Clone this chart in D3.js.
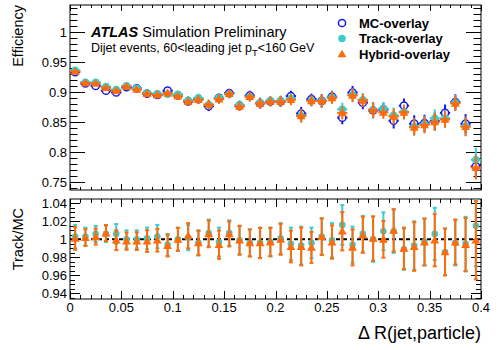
<!DOCTYPE html>
<html><head><meta charset="utf-8">
<script src="https://cdn.jsdelivr.net/npm/d3@7"></script>
<style>body{margin:0;background:#fff}svg{display:block}text{font-family:"Liberation Sans",Arial,Helvetica,sans-serif}</style>
</head><body><svg id="c" width="501" height="350"></svg>
<script>
const binCenters=[0.005,0.015,0.025,0.035,0.045,0.055,0.065,0.075,0.085,0.095,0.105,0.115,0.125,0.135,0.145,0.155,0.165,0.175,0.185,0.195,0.205,0.215,0.225,0.235,0.245,0.255,0.265,0.275,0.285,0.295,0.305,0.315,0.325,0.335,0.345,0.355,0.365,0.375,0.385,0.395];
const binHalfWidth=0.005;
const mcEff=[0.934,0.915,0.911,0.903,0.900,0.909,0.907,0.898,0.896,0.903,0.895,0.885,0.889,0.877,0.891,0.899,0.878,0.895,0.882,0.885,0.885,0.894,0.865,0.889,0.886,0.893,0.858,0.900,0.883,0.870,0.872,0.853,0.878,0.848,0.849,0.852,0.866,0.884,0.848,0.777];
const trackEff=[0.937,0.917,0.917,0.910,0.905,0.911,0.907,0.899,0.898,0.897,0.897,0.887,0.891,0.880,0.891,0.897,0.879,0.893,0.883,0.886,0.886,0.890,0.861,0.886,0.886,0.892,0.872,0.896,0.888,0.871,0.873,0.862,0.868,0.843,0.847,0.857,0.857,0.883,0.844,0.788];
const hybridEff=[0.935,0.916,0.915,0.908,0.903,0.910,0.905,0.898,0.896,0.899,0.894,0.885,0.888,0.880,0.889,0.898,0.877,0.893,0.882,0.885,0.885,0.888,0.861,0.886,0.886,0.891,0.866,0.895,0.887,0.871,0.867,0.860,0.867,0.842,0.846,0.851,0.855,0.882,0.843,0.775];
const effErr=[0.004,0.004,0.004,0.004,0.005,0.005,0.005,0.006,0.006,0.006,0.006,0.007,0.007,0.008,0.008,0.007,0.008,0.008,0.009,0.008,0.009,0.009,0.011,0.009,0.011,0.010,0.011,0.011,0.011,0.013,0.011,0.013,0.012,0.014,0.014,0.015,0.014,0.013,0.016,0.020];
const trackRatio=[1.003,1.003,1.006,1.006,1.006,1.000,1.000,1.001,1.003,0.994,1.000,1.002,0.996,1.007,0.997,1.007,0.999,0.996,0.996,0.997,1.001,0.995,0.993,0.996,1.003,0.999,1.016,0.994,1.006,1.000,1.009,1.009,0.989,0.993,0.997,1.006,0.986,0.996,0.995,1.015];
const hybridRatio=[1.001,1.002,1.003,1.007,0.999,0.998,0.998,0.998,0.999,0.993,1.000,1.004,0.996,1.006,0.994,1.006,0.999,0.996,0.996,0.997,1.000,0.992,0.992,0.991,1.003,0.997,1.009,0.991,1.005,1.001,1.000,1.010,0.990,0.992,0.997,0.999,0.986,0.997,0.994,0.999];
const trackRatioErr=[0.013,0.010,0.009,0.009,0.011,0.010,0.010,0.012,0.013,0.012,0.013,0.014,0.014,0.015,0.016,0.014,0.016,0.015,0.017,0.016,0.017,0.018,0.021,0.017,0.020,0.019,0.022,0.020,0.020,0.025,0.021,0.024,0.023,0.027,0.026,0.029,0.026,0.025,0.030,0.045];
const hybridRatioErr=[0.0126,0.0093,0.0089,0.0089,0.011,0.0096,0.0098,0.012,0.0126,0.012,0.0126,0.014,0.0135,0.0148,0.0157,0.0139,0.016,0.015,0.0167,0.0157,0.0172,0.0176,0.021,0.0172,0.0204,0.0185,0.0213,0.020,0.020,0.0246,0.0204,0.0235,0.023,0.027,0.026,0.029,0.026,0.025,0.0296,0.0435];
const xMajorTicks=[0,0.05,0.1,0.15,0.2,0.25,0.3,0.35,0.4];
const xMinorTicks=d3.range(0,41).map(i=>i/100);
const topMajorTicks=[0.75,0.8,0.85,0.9,0.95,1];
const topMinorTicks=d3.range(74,105).map(i=>i/100);
const botMajorTicks=[0.94,0.96,0.98,1,1.02,1.04];
const botMinorTicks=d3.range(187,210).map(i=>i*0.005);
const seriesNames=["MC-overlay","Track-overlay","Hybrid-overlay"];

const colMC="#1a1ae6",colTrack="#3ccccc",colHyb="#ff6a0a";
const svg=d3.select("#c");
const L=70,R=481;
const x=d3.scaleLinear().domain([0,0.4]).range([L,R]);
const yT=d3.scaleLinear().domain([0.7375,1.0458]).range([190,5]);
const yB=d3.scaleLinear().domain([0.9337,1.0448]).range([299,199]);
const fmt=d => d3.format("~g")(+d.toFixed(3));

function frame(y0,y1){svg.append("rect").attr("x",L).attr("y",y0).attr("width",R-L).attr("height",y1-y0).attr("fill","none").attr("stroke","#000").attr("stroke-width",1);}
function ticksY(scale,maj,min,lmaj,lmin){
  const g=svg.append("g").attr("stroke","#000").attr("stroke-width",1);
  const dom=scale.domain();
  min.filter(v=>v>=dom[0]&&v<=dom[1]).forEach(v=>{const yy=Math.round(scale(v))+0.5;
    g.append("line").attr("x1",L).attr("x2",L+lmin).attr("y1",yy).attr("y2",yy);
    g.append("line").attr("x1",R).attr("x2",R-lmin).attr("y1",yy).attr("y2",yy);});
  maj.forEach(v=>{const yy=Math.round(scale(v))+0.5;
    g.append("line").attr("x1",L).attr("x2",L+lmaj).attr("y1",yy).attr("y2",yy);
    g.append("line").attr("x1",R).attr("x2",R-lmaj).attr("y1",yy).attr("y2",yy);});
}
function ticksX(y0,y1,lmaj,lmin){
  const g=svg.append("g").attr("stroke","#000").attr("stroke-width",1);
  xMinorTicks.forEach(v=>{const xx=Math.round(x(v))+0.5;const isMaj=xMajorTicks.some(m=>Math.abs(m-v)<1e-9);const l=isMaj?lmaj:lmin;
    g.append("line").attr("x1",xx).attr("x2",xx).attr("y1",y1).attr("y2",y1-l);
    g.append("line").attr("x1",xx).attr("x2",xx).attr("y1",y0).attr("y2",y0+l);});
}
frame(5,190);frame(199,299);
ticksY(yT,topMajorTicks,topMinorTicks,15,7.5);
ticksY(yB,botMajorTicks,botMinorTicks,10,5);
ticksX(5,190,6,3);
ticksX(199,299,8,4);

const lab=svg.append("g").attr("font-size",13).attr("fill","#000");
topMajorTicks.forEach(v=>lab.append("text").attr("x",67).attr("y",yT(v)+4.5).attr("text-anchor","end").text(fmt(v)));
botMajorTicks.forEach(v=>lab.append("text").attr("x",67).attr("y",yB(v)+4.5).attr("text-anchor","end").text(fmt(v)));
xMajorTicks.forEach(v=>lab.append("text").attr("x",x(v)).attr("y",312).attr("text-anchor","middle").text(fmt(v)));
svg.append("text").attr("transform","translate(23,5) rotate(-90)").attr("text-anchor","end").attr("font-size",14.5).text("Efficiency");
svg.append("text").attr("transform","translate(23,208) rotate(-90)").attr("text-anchor","end").attr("font-size",14.5).text("Track/MC");
svg.append("text").attr("x",481).attr("y",339).attr("text-anchor","end").attr("font-size",18).text("\u0394 R(jet,particle)");

svg.append("clipPath").attr("id","ct").append("rect").attr("x",L).attr("y",5).attr("width",R-L).attr("height",185);
const gT=svg.append("g").attr("clip-path","url(#ct)");
function errTop(vals,col){
  const g=gT.append("g").attr("stroke",col).attr("stroke-width",2);
  binCenters.forEach((c,i)=>{
    g.append("line").attr("x1",x(c-binHalfWidth)).attr("x2",x(c+binHalfWidth)).attr("y1",yT(vals[i])).attr("y2",yT(vals[i]));
    g.append("line").attr("x1",x(c)).attr("x2",x(c)).attr("y1",yT(vals[i]-effErr[i])).attr("y2",yT(vals[i]+effErr[i]));
  });
}
const tri=d3.symbol().type(d3.symbolTriangle).size(34);
errTop(mcEff,colMC);
gT.append("g").selectAll("circle").data(binCenters).join("circle").attr("cx",d=>x(d)).attr("cy",(d,i)=>yT(mcEff[i])).attr("r",3.6).attr("fill","#fff").attr("stroke",colMC).attr("stroke-width",1.5);
errTop(trackEff,colTrack);
gT.append("g").selectAll("circle").data(binCenters).join("circle").attr("cx",d=>x(d)).attr("cy",(d,i)=>yT(trackEff[i])).attr("r",3.8).attr("fill",colTrack);
errTop(hybridEff,colHyb);
gT.append("g").selectAll("path").data(binCenters).join("path").attr("d",tri).attr("transform",(d,i)=>`translate(${x(d)},${yT(hybridEff[i])+0.8})`).attr("fill",colHyb);

const t1=svg.append("text").attr("x",91).attr("y",37).attr("font-size",14.5);
t1.append("tspan").attr("font-weight","bold").attr("font-style","italic").text("ATLAS");
t1.append("tspan").text(" Simulation Preliminary");
const t2=svg.append("text").attr("x",91).attr("y",52).attr("font-size",12.5);
t2.append("tspan").text("Dijet events, 60<leading jet p");
t2.append("tspan").attr("font-size",9.5).attr("dy",4).text("T");
t2.append("tspan").attr("dy",-4).text("<160 GeV");

const legY=[23,38.5,54];
svg.append("circle").attr("cx",342).attr("cy",legY[0]).attr("r",3.6).attr("fill","#fff").attr("stroke",colMC).attr("stroke-width",1.5);
svg.append("circle").attr("cx",342).attr("cy",legY[1]).attr("r",3.8).attr("fill",colTrack);
svg.append("path").attr("d",tri).attr("transform",`translate(342,${legY[2]+0.8})`).attr("fill",colHyb);
seriesNames.forEach((n,i)=>svg.append("text").attr("x",359).attr("y",legY[i]+4.7).attr("font-size",13).attr("font-weight","bold").text(n));

svg.append("clipPath").attr("id","cb").append("rect").attr("x",L).attr("y",199).attr("width",R-L).attr("height",100);
const gB=svg.append("g").attr("clip-path","url(#cb)");
gB.append("line").attr("x1",L).attr("x2",R).attr("y1",yB(1)).attr("y2",yB(1)).attr("stroke","#000").attr("stroke-width",2).attr("stroke-dasharray","4,3");
function errBot(vals,errs,col){
  const g=gB.append("g").attr("stroke",col).attr("stroke-width",2);
  binCenters.forEach((c,i)=>{
    const xx=x(c),lo=yB(vals[i]-errs[i]),hi=yB(vals[i]+errs[i]);
    g.append("line").attr("x1",xx).attr("x2",xx).attr("y1",lo).attr("y2",hi);
    g.append("line").attr("x1",xx-2).attr("x2",xx+2).attr("y1",lo).attr("y2",lo);
    g.append("line").attr("x1",xx-2).attr("x2",xx+2).attr("y1",hi).attr("y2",hi);
  });
}
errBot(trackRatio,trackRatioErr,colTrack);
gB.append("g").selectAll("circle").data(binCenters).join("circle").attr("cx",d=>x(d)).attr("cy",(d,i)=>yB(trackRatio[i])).attr("r",3.3).attr("fill",colTrack);
errBot(hybridRatio,hybridRatioErr,colHyb);
gB.append("g").selectAll("path").data(binCenters).join("path").attr("d",tri).attr("transform",(d,i)=>`translate(${x(d)},${yB(hybridRatio[i])+0.8})`).attr("fill",colHyb);
</script></body></html>
